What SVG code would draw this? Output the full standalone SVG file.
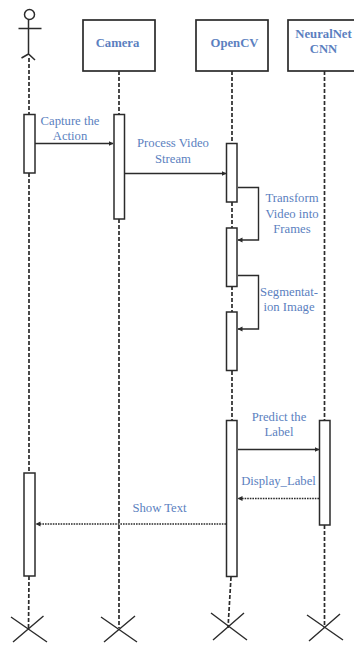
<svg xmlns="http://www.w3.org/2000/svg" width="354" height="646" viewBox="0 0 354 646">
<style>
.box{fill:#fff;stroke:#2b2b2b;stroke-width:1.7}
.act{fill:#fff;stroke:#2b2b2b;stroke-width:1.5}
.life{fill:none;stroke:#2b2b2b;stroke-width:1.7;stroke-dasharray:4 2}
.msg{fill:none;stroke:#2b2b2b;stroke-width:1.4}
.dot{fill:none;stroke:#2b2b2b;stroke-width:1.5;stroke-dasharray:1.6 1}
.x{fill:none;stroke:#2b2b2b;stroke-width:1.4}
text{font-family:"Liberation Serif","Times New Roman",serif;font-size:12.7px;fill:#5b7fc0;text-anchor:middle}
.b{font-weight:bold}
</style>
<defs>
<marker id="a" markerWidth="6" markerHeight="6" refX="4.5" refY="2.5" orient="auto" markerUnits="userSpaceOnUse"><path d="M0 0L5 2.5L0 5z" fill="#2b2b2b"/></marker>
</defs>
<g id="connectors">
<path class="life" d="M29 58V114M29 173V473M29 576L28.500 628"/>
<path class="life" d="M119 71V114M119 219V628"/>
<path class="life" d="M232 71V143M232 202V228M232 286V312M232 371V421M231 577L228 628"/>
<path class="life" d="M324.500 71V421M324.500 525V628"/>
<path class="msg" marker-end="url(#a)" d="M35 143.500H113"/>
<path class="msg" marker-end="url(#a)" d="M125 173.500H226"/>
<path class="msg" marker-end="url(#a)" d="M238 187.500H258.500V240H238"/>
<path class="msg" marker-end="url(#a)" d="M238 275.500H258.500V329H238"/>
<path class="msg" marker-end="url(#a)" d="M238 449.500H319"/>
<path class="dot" marker-end="url(#a)" d="M319 498.500H238"/>
<path class="dot" marker-end="url(#a)" d="M226 524H36"/>
</g>
<g id="actor" fill="none" stroke="#2b2b2b" stroke-width="1.500">
<circle cx="29.500" cy="14.500" r="5"/>
<path d="M28.500 19.500V54M18.500 28.500H41.500M21.500 58L28.500 54L35 60"/>
</g>
<g id="camera"><rect class="box" x="83" y="20" width="72" height="51"/><text class="b" x="117.500" y="47">Camera</text></g>
<g id="opencv"><rect class="box" x="196" y="20" width="72" height="51"/><text class="b" x="234.500" y="47">OpenCV</text></g>
<g id="neuralnet"><rect class="box" x="288" y="20" width="70" height="51"/><text class="b" x="323.500" y="38">NeuralNet</text><text class="b" x="323.500" y="53">CNN</text></g>
<g id="actor-activations"><rect class="act" x="24" y="114.500" width="11" height="58.500"/><rect class="act" x="24" y="473" width="11" height="103"/></g>
<g id="camera-activation"><rect class="act" x="114" y="114.500" width="10.500" height="104.500"/></g>
<g id="opencv-activations"><rect class="act" x="226.500" y="143.500" width="10.500" height="58.500"/><rect class="act" x="226.500" y="228" width="10.500" height="58.500"/><rect class="act" x="226.500" y="312" width="10.500" height="58.500"/><rect class="act" x="226.500" y="420.500" width="10.500" height="156"/></g>
<g id="neuralnet-activation"><rect class="act" x="319.500" y="420.500" width="10.500" height="104.500"/></g>
<g id="labels">
<text x="70" y="124.500">Capture the</text><text x="70" y="140">Action</text>
<text x="173" y="147">Process Video</text><text x="173" y="162.500">Stream</text>
<text x="292" y="202">Transform</text><text x="292" y="217.500">Video into</text><text x="292" y="233">Frames</text>
<text x="289" y="295.500">Segmentat-</text><text x="289" y="311">ion Image</text>
<text x="279" y="420.500">Predict the</text><text x="279" y="436">Label</text>
<text x="278.500" y="485">Display_Label</text>
<text x="159.500" y="511.500">Show Text</text>
</g>
<g id="terminators">
<path class="x" d="M11 617L47 642M43.500 616L13 642"/>
<path class="x" d="M101 617L137 642M135 616L104 642"/>
<path class="x" d="M211 613L247 640M244 613L213 640"/>
<path class="x" d="M307 615L343 640M340 614L309 641"/>
</g>
</svg>
